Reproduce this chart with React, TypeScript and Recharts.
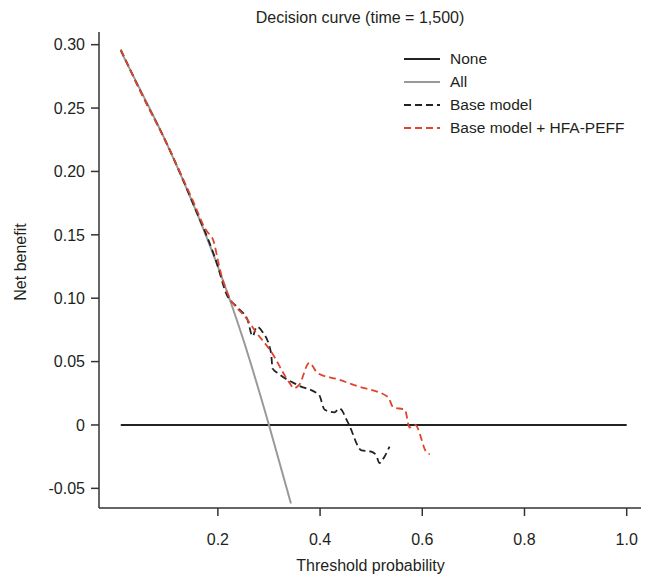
import { LineChart, Line, XAxis, YAxis } from "recharts";

// Decision curve values
const noneT = [0.01, 1.0];
const noneNB = [0, 0];

const allT = [0.01, 0.05, 0.1, 0.15, 0.2, 0.25, 0.3, 0.343];
const allNB = [0.295, 0.263, 0.222, 0.176, 0.125, 0.067, 0.0, -0.062];

const baseT = [
  0.01, 0.05, 0.1, 0.15, 0.2, 0.215, 0.24, 0.258, 0.268, 0.276, 0.287, 0.304,
  0.307, 0.317, 0.356, 0.398, 0.409, 0.428, 0.438, 0.455, 0.481, 0.5, 0.51,
  0.516, 0.526, 0.536,
];
const baseNB = [
  0.296, 0.262, 0.222, 0.176, 0.125, 0.105, 0.092, 0.083, 0.07, 0.0775, 0.0736,
  0.057, 0.0447, 0.041, 0.0315, 0.0237, 0.012, 0.01, 0.013, 0.0016, -0.02,
  -0.021, -0.024, -0.03, -0.025, -0.017,
];

const hfaT = [
  0.01, 0.05, 0.1, 0.15, 0.18, 0.185, 0.192, 0.2, 0.207, 0.215, 0.258, 0.274,
  0.304, 0.339, 0.349, 0.359, 0.379, 0.395, 0.435, 0.47, 0.533, 0.543, 0.566,
  0.575, 0.586, 0.609, 0.615,
];
const hfaNB = [
  0.296, 0.262, 0.222, 0.178, 0.152, 0.15, 0.1445, 0.13, 0.118, 0.108, 0.083,
  0.0736, 0.058, 0.034, 0.029, 0.0316, 0.049, 0.041, 0.036, 0.031, 0.022, 0.014,
  0.012, -0.002, 0.0, -0.022, -0.023,
];

const xTicks = [0.2, 0.4, 0.6, 0.8, 1.0];
const yTicks = [-0.05, 0, 0.05, 0.1, 0.15, 0.2, 0.25, 0.3];

const zip = (t: number[], v: number[]) => t.map((x, i) => ({ t: x, nb: v[i] }));

const FONT = '"Liberation Sans", Arial, sans-serif';
const TEXT = "#231f20";

const legendItems = [
  { name: "None", color: "#222", dash: undefined, width: 2 },
  { name: "All", color: "#999", dash: undefined, width: 2 },
  { name: "Base model", color: "#222", dash: "7 4", width: 1.8 },
  { name: "Base model + HFA-PEFF", color: "#e0452c", dash: "7 4", width: 1.8 },
];

export default function App() {
  const tickStyle = { fill: TEXT, fontSize: 16, fontFamily: FONT };
  return (
    <div
      style={{
        position: "absolute",
        left: 0,
        top: 0,
        width: 652,
        height: 587,
        background: "#fff",
        fontFamily: FONT,
        color: TEXT,
      }}
    >
      <LineChart
        width={652}
        height={587}
        margin={{ top: 32, right: 11, bottom: 0, left: 0 }}
      >
        <XAxis
          dataKey="t"
          type="number"
          domain={[-0.0326, 1.028]}
          allowDataOverflow
          ticks={xTicks}
          tickFormatter={(v: number) => v.toFixed(1)}
          height={79}
          tickSize={8}
          tickMargin={18}
          tick={tickStyle}
          axisLine={{ stroke: "#333", strokeWidth: 1.5 }}
          tickLine={{ stroke: "#333", strokeWidth: 1.5 }}
        />
        <YAxis
          type="number"
          domain={[-0.0655, 0.31]}
          allowDataOverflow
          ticks={yTicks}
          tickFormatter={(v: number) => (v === 0 ? "0" : v.toFixed(2))}
          width={99}
          tickSize={8}
          tickMargin={6}
          tick={tickStyle}
          axisLine={{ stroke: "#333", strokeWidth: 1.5 }}
          tickLine={{ stroke: "#333", strokeWidth: 1.5 }}
        />
        <Line
          data={zip(noneT, noneNB)}
          dataKey="nb"
          type="linear"
          stroke="#222"
          strokeWidth={2}
          dot={false}
          isAnimationActive={false}
        />
        <Line
          data={zip(allT, allNB)}
          dataKey="nb"
          type="monotone"
          stroke="#999"
          strokeWidth={2}
          dot={false}
          isAnimationActive={false}
        />
        <Line
          data={zip(baseT, baseNB)}
          dataKey="nb"
          type="monotone"
          stroke="#222"
          strokeWidth={1.8}
          strokeDasharray="7 4"
          dot={false}
          isAnimationActive={false}
        />
        <Line
          data={zip(hfaT, hfaNB)}
          dataKey="nb"
          type="monotone"
          stroke="#e0452c"
          strokeWidth={1.8}
          strokeDasharray="7 4"
          dot={false}
          isAnimationActive={false}
        />
      </LineChart>

      <div
        style={{
          position: "absolute",
          top: 8,
          left: 0,
          width: 720,
          textAlign: "center",
          fontSize: 16,
          lineHeight: "20px",
        }}
      >
        Decision curve (time = 1,500)
      </div>
      <div
        style={{
          position: "absolute",
          top: 556,
          left: 100,
          width: 541,
          textAlign: "center",
          fontSize: 16,
          lineHeight: "20px",
        }}
      >
        Threshold probability
      </div>
      <div
        style={{
          position: "absolute",
          left: 21,
          top: 262,
          fontSize: 16,
          lineHeight: "20px",
          whiteSpace: "nowrap",
          transform: "translate(-50%, -50%) rotate(-90deg)",
        }}
      >
        Net benefit
      </div>

      <div style={{ position: "absolute", left: 403, top: 47 }}>
        {legendItems.map((it) => (
          <div
            key={it.name}
            style={{
              display: "flex",
              alignItems: "center",
              height: 23,
              fontSize: 15.5,
            }}
          >
            <svg width={38} height={10} style={{ marginRight: 9 }}>
              <line
                x1={1}
                y1={5}
                x2={37}
                y2={5}
                stroke={it.color}
                strokeWidth={it.width}
                strokeDasharray={it.dash}
              />
            </svg>
            <span>{it.name}</span>
          </div>
        ))}
      </div>
    </div>
  );
}
